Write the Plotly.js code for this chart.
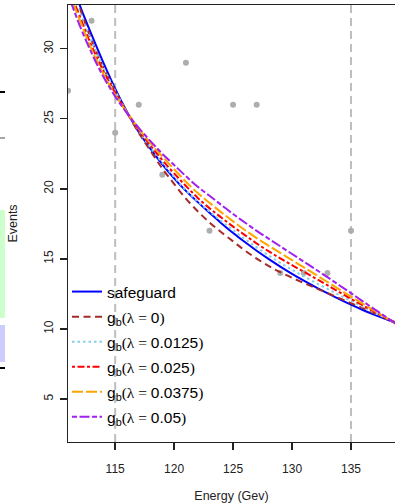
<!DOCTYPE html>
<html>
<head>
<meta charset="utf-8">
<script src="https://cdn.plot.ly/plotly-3.0.1.min.js"></script>
<style>
html,body{margin:0;padding:0;background:#fff;}
#chart{width:395px;height:503px;}
</style>
</head>
<body>
<div id="chart"></div>
<script>
// ---- data ----
const energy = [111,112,113,114,115,116,117,118,119,120,121,122,123,124,125,126,127,128,129,130,131,132,133,134,135,136,137,138,139];
const safeguard   = [35.5,33.1,31.0,29.0,27.15,25.5,24.05,22.85,21.75,20.75,19.85,19.05,18.3,17.55,16.85,16.2,15.58,15.0,14.45,13.93,13.44,12.98,12.55,12.13,11.73,11.35,11.0,10.68,10.38];
const gbLambda0     = [35.2,32.9,30.6,28.65,27.0,25.45,24.0,22.7,21.45,20.35,19.3,18.4,17.6,16.9,16.25,15.6,15.02,14.5,14.05,13.65,13.28,12.92,12.56,12.2,11.84,11.48,11.12,10.76,10.4];
const gbLambda00125 = [34.7,32.6,30.5,28.65,27.0,25.45,24.15,22.95,21.85,20.85,19.9,19.1,18.38,17.7,17.05,16.42,15.82,15.25,14.72,14.22,13.75,13.3,12.86,12.42,12.0,11.58,11.16,10.74,10.3];
const gbLambda0025  = [34.4,32.3,30.2,28.4,26.85,25.45,24.2,23.1,22.05,21.1,20.2,19.35,18.62,17.95,17.3,16.7,16.1,15.55,15.04,14.55,14.08,13.6,13.12,12.63,12.14,11.68,11.22,10.75,10.29];
const gbLambda00375 = [34.2,32.05,29.95,28.2,26.7,25.45,24.3,23.25,22.3,21.4,20.5,19.7,19.0,18.32,17.68,17.06,16.48,15.95,15.43,14.91,14.39,13.87,13.35,12.83,12.31,11.8,11.29,10.78,10.27];
const gbLambda005   = [33.9,31.65,29.7,28.0,26.6,25.4,24.35,23.4,22.5,21.7,20.9,20.15,19.5,18.85,18.2,17.6,17.0,16.45,15.9,15.35,14.8,14.25,13.7,13.12,12.55,11.97,11.4,10.83,10.25];

const obsEnergy = [111,113,115,117,119,121,123,125,127,129,131,133,135];
const obsEvents = [27,32,24,26,21,29,17,26,26,14,14,14,17];

const cutEnergies = [115, 135];
const xTicks = [115,120,125,130,135];
const yTicks = [5,10,15,20,25,30];

const serif = "<span style='font-family:Liberation Serif'>";
const gbName = v => 'g<sub>b</sub>' + serif + '(λ = </span>' + v + serif + ')</span>';
const seriesNames = ['safeguard', gbName('0'), gbName('0.0125'), gbName('0.025'), gbName('0.0375'), gbName('0.05')];
const seriesValues = [safeguard, gbLambda0, gbLambda00125, gbLambda0025, gbLambda00375, gbLambda005];
const seriesColors = ['#0000FF', '#A52A2A', '#87CEEB', '#FF0000', '#FFA500', '#A020F0'];
const seriesDash = ['solid', '7px,4.5px', '2.5px,3px', '3px,2.5px,7px,2.5px', '11px,3px', '5px,2.5px,10px,2.5px'];

const traces = [{
  x: obsEnergy, y: obsEvents, type: 'scatter', mode: 'markers',
  marker: {color: '#AEAEAE', size: 6}, showlegend: false, hoverinfo: 'skip', cliponaxis: true
}];
seriesValues.forEach((vals, i) => {
  traces.push({
    x: energy, y: vals, type: 'scatter', mode: 'lines',
    name: seriesNames[i], legendgroup: 'g' + i,
    line: {color: seriesColors[i], width: 2, dash: seriesDash[i], shape: 'spline', smoothing: 1}
  });
});

const X0 = 68, W = 327, Y0 = 5, H = 437;
const px = v => (v - X0) / W;
const py = v => (Y0 + H - v) / H;

const shapes = cutEnergies.map(e => ({
  type: 'line', xref: 'x', yref: 'paper', x0: e, x1: e, y0: 0, y1: 1, layer: 'below',
  line: {color: '#BEBEBE', width: 2, dash: '8px,5px'}
}));
// fragments of a neighbouring panel visible at the left edge
shapes.push(
  {type: 'line', xref: 'paper', yref: 'paper', x0: px(0), x1: px(5), y0: py(92), y1: py(92), line: {color: '#000', width: 2}},
  {type: 'line', xref: 'paper', yref: 'paper', x0: px(0), x1: px(5), y0: py(138), y1: py(138), line: {color: '#888', width: 1.5}},
  {type: 'rect', xref: 'paper', yref: 'paper', x0: px(0), x1: px(5), y0: py(318), y1: py(210), fillcolor: '#CCFFCC', line: {width: 0}},
  {type: 'rect', xref: 'paper', yref: 'paper', x0: px(0), x1: px(5), y0: py(362), y1: py(325), fillcolor: '#CCCCFF', line: {width: 0}},
  {type: 'line', xref: 'paper', yref: 'paper', x0: px(0), x1: px(5), y0: py(368), y1: py(368), line: {color: '#000', width: 2}}
);

const axisCommon = {
  showgrid: false, zeroline: false, showline: true, linecolor: '#222', linewidth: 1.4,
  ticks: 'outside', ticklen: 7, tickwidth: 1.4, tickcolor: '#222',
  tickfont: {family: 'Liberation Sans, Arial, sans-serif', size: 12, color: '#222'}
};

const layout = {
  width: 395, height: 503,
  margin: {l: X0, r: 0, t: Y0, b: 503 - Y0 - H, pad: 0},
  paper_bgcolor: '#fff', plot_bgcolor: '#fff',
  font: {family: 'Liberation Sans, Arial, sans-serif', color: '#000'},
  showlegend: true,
  legend: {
    x: px(67), y: py(275), xanchor: 'left', yanchor: 'top',
    bgcolor: 'rgba(0,0,0,0)', borderwidth: 0, tracegroupgap: 1.9,
    font: {size: 15.5, color: '#000'}
  },
  xaxis: Object.assign({}, axisCommon, {
    range: [111.0, 138.73], tickvals: xTicks, ticktext: xTicks.map(String), mirror: true,
    ticklabelstandoff: 8,
    title: {text: 'Energy (Gev)', font: {size: 12.5, color: '#222'}, standoff: 20}
  }),
  yaxis: Object.assign({}, axisCommon, {
    range: [1.93, 33.12], tickvals: yTicks, ticktext: yTicks.map(String), tickangle: -90,
    ticklabelstandoff: 2,
    title: {text: 'Events', font: {size: 12.5, color: '#222'}, standoff: 21}
  }),
  shapes: shapes
};

Plotly.newPlot('chart', traces, layout, {displayModeBar: false, staticPlot: true});
</script>
</body>
</html>
